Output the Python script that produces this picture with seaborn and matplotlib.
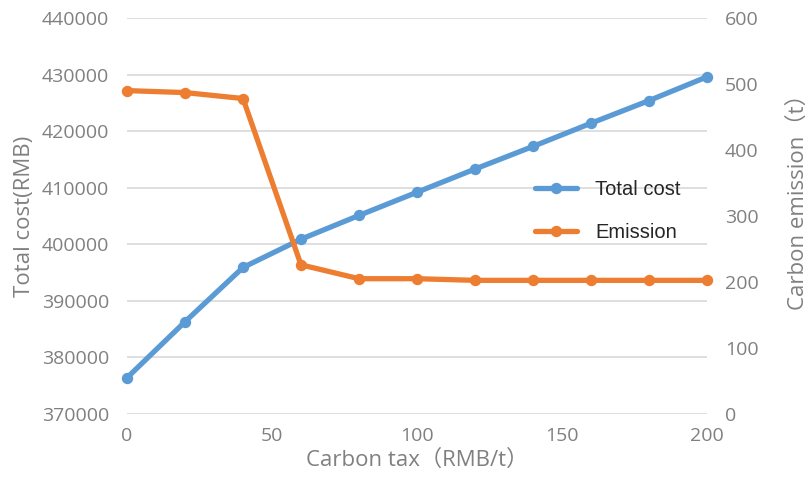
import matplotlib
matplotlib.use("Agg")
import matplotlib.pyplot as plt
from matplotlib.lines import Line2D
import seaborn as sns
import pandas as pd

carbon_tax = [0, 20, 40, 60, 80, 100, 120, 140, 160, 180, 200]
total_cost = [376400, 386300, 395900, 400900, 405100, 409200, 413300, 417300, 421400, 425400, 429600]
emission = [490, 487, 478, 226, 205, 205, 202.5, 202.5, 202.5, 202.5, 202.5]

df = pd.DataFrame({"tax": carbon_tax, "cost": total_cost, "emission": emission})

sns.set_theme(style="white")
plt.rcParams['font.family'] = ['Open Sans', 'Noto Sans CJK SC', 'DejaVu Sans']

BLUE = "#5B9BD5"
ORANGE = "#ED7D31"
GRAY = "#808080"

fig = plt.figure(figsize=(8.09, 4.86), dpi=100)
ax = fig.add_axes([127/809, 1-414/486, 580/809, 396/486])
ax2 = ax.twinx()

sns.lineplot(data=df, x="tax", y="cost", ax=ax, color=BLUE, linewidth=3.8,
             marker="o", markersize=8.2, markeredgewidth=0,
             clip_on=False, zorder=5, legend=False)
sns.lineplot(data=df, x="tax", y="emission", ax=ax2, color=ORANGE, linewidth=3.8,
             marker="o", markersize=8.2, markeredgewidth=0,
             clip_on=False, zorder=5, legend=False)

ax.set_xlim(0, 200)
ax.set_ylim(370000, 440000)
ax2.set_ylim(0, 600)
ax.set_xticks([0, 50, 100, 150, 200])
ax.set_yticks(range(370000, 440001, 10000))
ax2.set_yticks(range(0, 601, 100))

ax.yaxis.grid(True, color="#D9D9D9", linewidth=1.2)
ax.xaxis.grid(False)
ax2.grid(False)
for a in (ax, ax2):
    for s in a.spines.values():
        s.set_visible(False)

ax.tick_params(axis="x", length=0, pad=9, labelsize=14, labelcolor=GRAY)
ax.tick_params(axis="y", length=0, pad=13, labelsize=14, labelcolor=GRAY)
ax2.tick_params(axis="y", length=0, pad=13, labelsize=14, labelcolor=GRAY)

ax.set_xlabel("Carbon tax（RMB/t）", fontsize=16, color=GRAY, labelpad=4)
ax.set_ylabel("Total cost(RMB)", fontsize=16, color=GRAY, labelpad=5)
ax2.set_ylabel("Carbon emission（t）", fontsize=16, color=GRAY, rotation=90, labelpad=21)
ax2.yaxis.label.set_y(0.55)

handles = [Line2D([], [], color=BLUE, lw=3.8, marker="o", markersize=8.2, markeredgewidth=0),
           Line2D([], [], color=ORANGE, lw=3.8, marker="o", markersize=8.2, markeredgewidth=0)]
leg = ax2.legend(handles, ["Total cost", "Emission"], loc="center left",
                 bbox_to_anchor=(535/809, 1-211/486), bbox_transform=fig.transFigure,
                 frameon=False, handlelength=2.1, labelspacing=1.2, handletextpad=0.9,
                 borderpad=0, borderaxespad=0,
                 prop={"family": ["Liberation Sans", "DejaVu Sans"], "size": 14.5})
for t in leg.get_texts():
    t.set_color("#262626")

fig.savefig("out.png", dpi=100)
